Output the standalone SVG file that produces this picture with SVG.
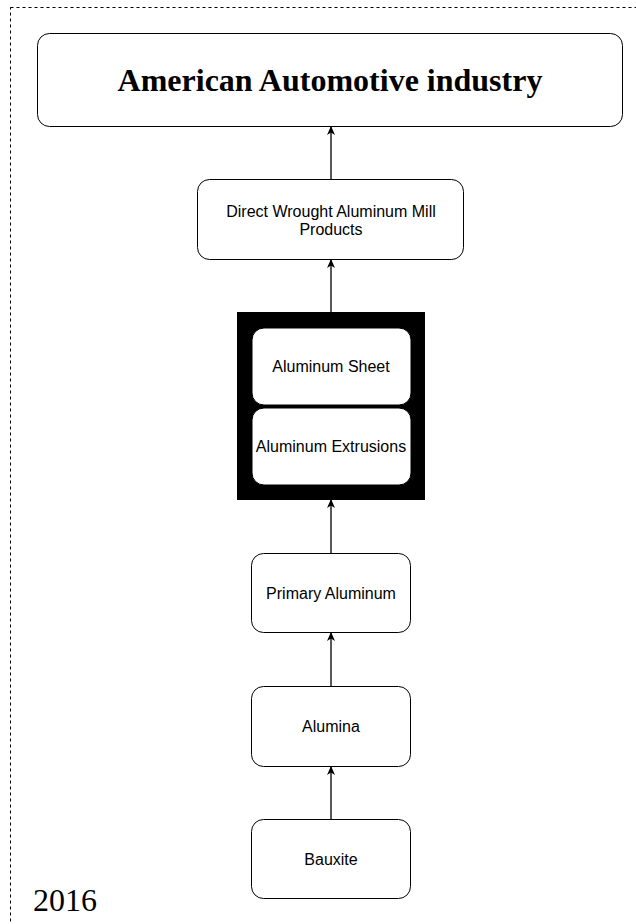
<svg xmlns="http://www.w3.org/2000/svg" width="636" height="924" viewBox="0 0 636 924">
<defs>
<marker id="ah" markerWidth="10" markerHeight="10" refX="8" refY="5" orient="auto" markerUnits="userSpaceOnUse">
<path d="M0,1 L9,5 L0,9 L2.5,5 Z" fill="#000"/>
</marker>
</defs>
<style>
.box{fill:#fff;stroke:#000;stroke-width:1}
.lbl{font-family:"Liberation Sans",Arial,sans-serif;font-size:16px;fill:#000;text-anchor:middle}
.edge{stroke:#000;stroke-width:1.3;fill:none;marker-end:url(#ah)}
</style>
<rect x="10.5" y="7.5" width="640" height="930" fill="#fff" stroke="#000" stroke-width="1" stroke-dasharray="3,3"/>
<g id="n-american">
<rect class="box" x="37.5" y="33.5" width="585" height="93" rx="12"/>
<text x="330" y="91" font-family="'Liberation Serif','Times New Roman',serif" font-size="32" font-weight="bold" text-anchor="middle">American Automotive industry</text>
</g>
<g id="n-direct">
<rect class="box" x="197.5" y="179.5" width="266" height="80" rx="12"/>
<text class="lbl" x="331" y="217">Direct Wrought Aluminum Mill</text>
<text class="lbl" x="331" y="235">Products</text>
</g>
<g id="n-group">
<rect x="237" y="312" width="188" height="188" fill="#000"/>
</g>
<g id="n-sheet">
<rect class="box" x="252" y="328" width="159" height="77" rx="12"/>
<text class="lbl" x="331" y="372">Aluminum Sheet</text>
</g>
<g id="n-extrusions">
<rect class="box" x="252" y="408" width="159" height="77" rx="12"/>
<text class="lbl" x="331" y="452">Aluminum Extrusions</text>
</g>
<g id="n-primary">
<rect class="box" x="251.5" y="553.5" width="159" height="79" rx="12"/>
<text class="lbl" x="331" y="599">Primary Aluminum</text>
</g>
<g id="n-alumina">
<rect class="box" x="251.5" y="686.5" width="159" height="80" rx="12"/>
<text class="lbl" x="331" y="732">Alumina</text>
</g>
<g id="n-bauxite">
<rect class="box" x="251.5" y="819.5" width="159" height="79" rx="12"/>
<text class="lbl" x="331" y="865">Bauxite</text>
</g>
<g id="connectors">
<line class="edge" x1="331" y1="179" x2="331" y2="127"/>
<line class="edge" x1="331" y1="312" x2="331" y2="260"/>
<line class="edge" x1="331" y1="553" x2="331" y2="500"/>
<line class="edge" x1="331" y1="686" x2="331" y2="633"/>
<line class="edge" x1="331" y1="819" x2="331" y2="767"/>
</g>
<text x="33" y="911" font-family="'Liberation Serif','Times New Roman',serif" font-size="32">2016</text>
</svg>
